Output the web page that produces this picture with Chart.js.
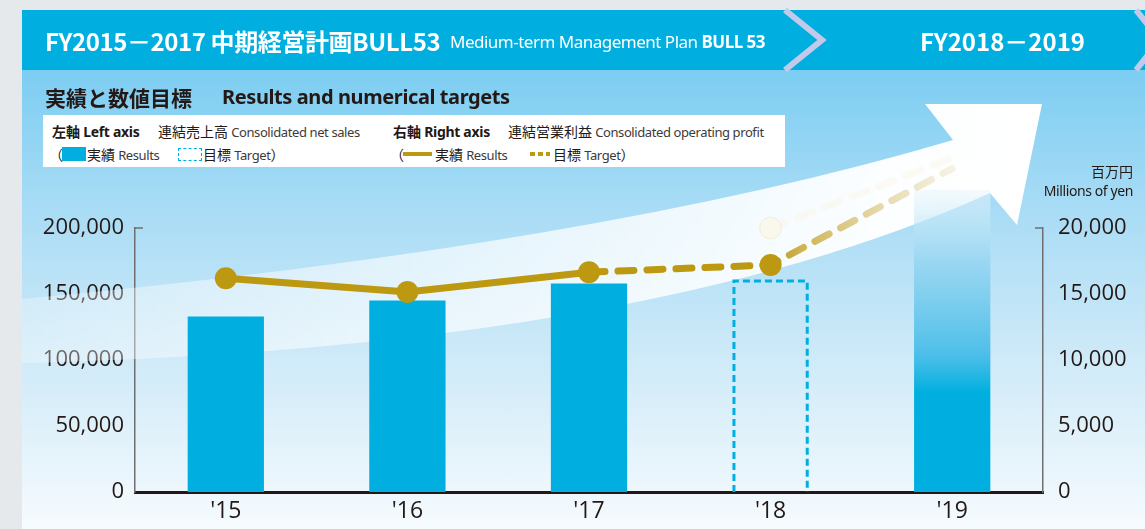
<!DOCTYPE html>
<html>
<head>
<meta charset="utf-8">
<script src="https://cdn.jsdelivr.net/npm/chart.js@4.4.1/dist/chart.umd.min.js"></script>
<style>
  body { margin: 0; width: 1145px; height: 529px; background: #e5e9ec; position: relative; overflow: hidden; font-family: "Noto Sans CJK JP", "Noto Sans", sans-serif; color: #231815; }
  #panel { position: absolute; left: 22px; top: 10px; width: 1123px; height: 519px;
    background: linear-gradient(to bottom, #00afdf 0px, #00afdf 60px, #7ccdf2 60px, #a6dbf5 190px, #cde9f8 340px, #f6fbfe 519px); }
  #c { position: absolute; left: 0; top: 0; }
  .abs { position: absolute; white-space: nowrap; }
  .hd { color: #fff; font-weight: bold; }
  #legend { position: absolute; left: 43px; top: 115px; width: 742px; height: 52px; background: #fff; }
  .lg { position: absolute; white-space: nowrap; font-size: 14px; line-height: 18px; }
  .en { font-family: "Noto Sans", sans-serif; font-size: 13px; letter-spacing: -0.4px; color: #3e3a39; }
</style>
</head>
<body>
<div id="panel"></div>
<canvas id="c" width="1145" height="529"></canvas>

<!-- header band -->
<svg class="abs" style="left:0;top:0" width="1145" height="80">
  <polyline points="785,10 822,40 785,70" fill="none" stroke="#c3c9e8" stroke-width="6"/>
  <polyline points="1136,10 1160,40 1136,70" fill="none" stroke="#c3c9e8" stroke-width="6"/>
</svg>
<div class="abs hd" style="left:45px;top:25px;font-size:24px;line-height:32px;letter-spacing:-0.4px">FY2015－2017 中期経営計画BULL53</div>
<div class="abs" style="left:450px;top:30px;font-size:17px;line-height:24px;color:#fff;font-family:'Noto Sans',sans-serif;letter-spacing:-0.5px">Medium-term Management Plan <b>BULL 53</b></div>
<div class="abs hd" style="left:920px;top:25px;font-size:24px;line-height:32px;letter-spacing:0px">FY2018－2019</div>

<!-- title -->
<div class="abs" style="left:45px;top:83px;font-size:21px;line-height:28px;font-weight:bold">実績と数値目標</div>
<div class="abs" style="left:222px;top:84px;font-size:20px;line-height:26px;font-weight:bold;font-family:'Noto Sans',sans-serif;letter-spacing:-0.4px">Results and numerical targets</div>

<!-- legend box -->
<div id="legend">
  <div class="lg" style="left:9px;top:7px"><b>左軸</b> <b style="font-family:'Noto Sans',sans-serif;letter-spacing:-0.3px">Left axis</b></div>
  <div class="lg" style="left:115px;top:7px">連結売上高 <span class="en">Consolidated net sales</span></div>
  <div class="lg" style="left:350px;top:7px"><b>右軸</b> <b style="font-family:'Noto Sans',sans-serif;letter-spacing:-0.3px">Right axis</b></div>
  <div class="lg" style="left:465px;top:7px">連結営業利益 <span class="en">Consolidated operating profit</span></div>

  <div class="lg" style="left:6px;top:30px">（</div>
  <div class="abs" style="left:19px;top:32px;width:24px;height:14px;background:#00afdf"></div>
  <div class="lg" style="left:44px;top:30px">実績 <span class="en">Results</span></div>
  <div class="abs" style="left:135px;top:33px;width:22px;height:11px;border:1.5px dashed #00afdf"></div>
  <div class="lg" style="left:160px;top:30px">目標 <span class="en">Target</span>）</div>

  <div class="lg" style="left:347px;top:30px">（</div>
  <div class="abs" style="left:360px;top:37px;width:29px;height:4px;background:#bd9811"></div>
  <div class="lg" style="left:392px;top:30px">実績 <span class="en">Results</span></div>
  <div class="abs" style="left:487px;top:37px;width:20px;height:4px;background:repeating-linear-gradient(to right,#bd9811 0 5px,transparent 5px 8px)"></div>
  <div class="lg" style="left:510px;top:30px">目標 <span class="en">Target</span>）</div>
</div>

<!-- right axis unit -->
<div class="abs" style="right:12px;top:162px;font-size:14px;line-height:18px;text-align:right">百万円</div>
<div class="abs" style="right:12px;top:182px;font-size:14px;line-height:18px;font-family:'Noto Sans',sans-serif;letter-spacing:-0.4px">Millions of yen</div>

<script>
// categories
const years = ["'15", "'16", "'17", "'18", "'19"];

// left axis: consolidated net sales (millions of yen)
const salesResults = [133000, 145000, 158000, null, null];
const salesTarget = [null, null, null, 161000, null];
const salesOutlook = [null, null, null, null, 229000];

// right axis: consolidated operating profit (millions of yen)
const profitResults = [16200, 15150, 16650, null, null];
const profitTarget = [null, null, 16650, 17200, 24500];
const profitGhost = [null, null, null, 20000, 25300];

// tick settings
const leftMax = 200000, leftStep = 50000;
const rightMax = 20000, rightStep = 5000;

const blue = '#00afdf';
const gold = '#bd9811';
const ink = '#231815';

Chart.defaults.font.family = "'Open Sans', sans-serif";

// big white arrow behind the bars
const arrowPlugin = {
  id: 'arrow',
  beforeDatasetsDraw(chart) {
    const c = chart.ctx;
    c.save();
    const g = c.createLinearGradient(22, 0, 1040, 0);
    g.addColorStop(0, 'rgba(255,255,255,0.3)');
    g.addColorStop(0.55, 'rgba(255,255,255,0.75)');
    g.addColorStop(0.85, 'rgba(255,255,255,0.97)');
    g.addColorStop(1, 'rgba(255,255,255,1)');
    c.fillStyle = g;
    c.beginPath();
    c.moveTo(22, 299);
    c.quadraticCurveTo(600, 245, 953, 140);
    c.lineTo(925, 104);
    c.lineTo(1042, 104);
    c.lineTo(1017, 225);
    c.lineTo(990, 193);
    c.quadraticCurveTo(650, 348, 22, 363);
    c.closePath();
    c.fill();
    c.restore();
  }
};

// dashed outline for target bar + small top ticks on both axes
const decoPlugin = {
  id: 'deco',
  afterDatasetsDraw(chart) {
    const c = chart.ctx;
    const meta = chart.getDatasetMeta(4);
    c.save();
    meta.data.forEach((bar, i) => {
      if (salesTarget[i] == null) return;
      const p = bar.getProps(['x', 'y', 'base', 'width'], true);
      const l = p.x - p.width / 2 + 1.5, r = p.x + p.width / 2 - 1.5;
      c.strokeStyle = blue;
      c.lineWidth = 3;
      c.setLineDash([7, 4]);
      c.beginPath();
      c.moveTo(l, p.base);
      c.lineTo(l, p.y + 1.5);
      c.lineTo(r, p.y + 1.5);
      c.lineTo(r, p.base);
      c.stroke();
    });
    c.setLineDash([]);
    const y = chart.scales.y.getPixelForValue(leftMax);
    const a = chart.chartArea;
    c.strokeStyle = '#6f6f6f';
    c.lineWidth = 1.5;
    c.beginPath();
    c.moveTo(a.left, y); c.lineTo(a.left + 8, y);
    c.moveTo(a.right, y); c.lineTo(a.right - 8, y);
    c.stroke();
    c.restore();
  }
};

const fadeGold = (ctx) => {
  const chart = ctx.chart;
  if (!chart.chartArea) return gold;
  const xs = chart.scales.x;
  const x3 = xs.getPixelForValue(3), x4 = xs.getPixelForValue(4);
  const g = chart.ctx.createLinearGradient(x3, 0, x4 + 20, 0);
  g.addColorStop(0, 'rgba(189,152,17,1)');
  g.addColorStop(0.15, 'rgba(196,160,40,0.8)');
  g.addColorStop(1, 'rgba(220,200,140,0.15)');
  return g;
};

const outlookFill = (ctx) => {
  const chart = ctx.chart;
  if (!chart.chartArea) return blue;
  const ys = chart.scales.y;
  const y0 = ys.getPixelForValue(0), y1 = ys.getPixelForValue(salesOutlook[4] || leftMax);
  const g = chart.ctx.createLinearGradient(0, y0, 0, y1);
  g.addColorStop(0, blue);
  g.addColorStop(0.33, blue);
  g.addColorStop(0.45, 'rgba(60,185,230,0.9)');
  g.addColorStop(0.75, 'rgba(140,210,240,0.75)');
  g.addColorStop(1, 'rgba(235,246,252,0.5)');
  return g;
};

new Chart(document.getElementById('c'), {
  type: 'bar',
  data: {
    labels: years,
    datasets: [
      { type: 'line', label: '連結営業利益 実績', data: profitResults, yAxisID: 'y1',
        borderColor: gold, backgroundColor: gold, borderWidth: 7,
        pointRadius: 11, pointHoverRadius: 11, pointBorderWidth: 0, clip: false, order: 0 },
      { type: 'line', label: '連結営業利益 目標', data: profitTarget, yAxisID: 'y1',
        borderColor: fadeGold, borderWidth: 7, borderDash: [16, 13], borderCapStyle: 'round',
        pointRadius: [0, 0, 0, 11, 0], pointBackgroundColor: gold, pointBorderWidth: 0,
        clip: false, order: 1 },
      { type: 'line', label: 'ghost', data: profitGhost, yAxisID: 'y1',
        borderColor: 'rgba(250,246,232,0.5)', borderWidth: 7, borderDash: [16, 13], borderCapStyle: 'round',
        pointRadius: [0, 0, 0, 11, 0], pointBackgroundColor: 'rgba(250,246,232,0.8)',
        pointBorderColor: 'rgba(235,225,190,0.5)', pointBorderWidth: 1,
        clip: false, order: 2 },
      { label: '連結売上高 実績', data: salesResults, yAxisID: 'y', backgroundColor: blue,
        grouped: false, barPercentage: 0.42, categoryPercentage: 1, order: 5 },
      { label: '連結売上高 目標', data: salesTarget, yAxisID: 'y', backgroundColor: 'rgba(0,0,0,0)',
        grouped: false, barPercentage: 0.42, categoryPercentage: 1, order: 5 },
      { label: '見通し', data: salesOutlook, yAxisID: 'y', backgroundColor: outlookFill,
        grouped: false, barPercentage: 0.42, categoryPercentage: 1, clip: false, order: 6 }
    ]
  },
  options: {
    responsive: false,
    animation: false,
    events: [],
    layout: { padding: { top: 228, left: 0, right: 0, bottom: 0 } },
    plugins: { legend: { display: false }, tooltip: { enabled: false } },
    scales: {
      x: {
        grid: { display: false, drawTicks: false },
        border: { display: true, color: ink, width: 3 },
        ticks: { color: ink, font: { size: 23 }, padding: 6 },
        afterFit: (s) => { s.height = 37; }
      },
      y: {
        position: 'left', min: 0, max: leftMax,
        grid: { display: false, drawTicks: false },
        border: { display: true, color: '#6f6f6f', width: 1.5 },
        ticks: { stepSize: leftStep, color: ink, font: { size: 22 }, padding: 11,
          callback: (v) => v.toLocaleString('en-US') },
        afterFit: (s) => { s.width = 135; }
      },
      y1: {
        position: 'right', min: 0, max: rightMax,
        grid: { display: false, drawTicks: false },
        border: { display: true, color: '#6f6f6f', width: 1.5 },
        ticks: { stepSize: rightStep, color: ink, font: { size: 22 }, padding: 15,
          callback: (v) => v.toLocaleString('en-US') },
        afterFit: (s) => { s.width = 102; }
      }
    }
  },
  plugins: [arrowPlugin, decoPlugin]
});
</script>
</body>
</html>
